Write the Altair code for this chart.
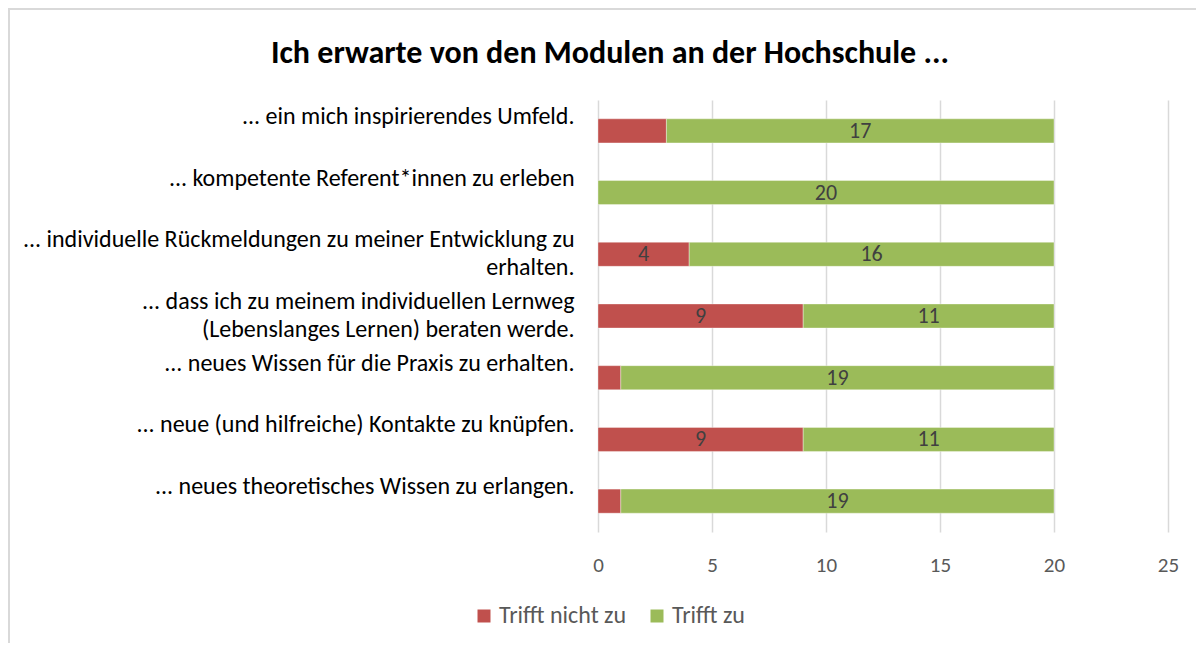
import altair as alt
import pandas as pd

categories = [
    "... ein mich inspirierendes Umfeld.",
    "... kompetente Referent*innen zu erleben",
    "... individuelle Rückmeldungen zu meiner Entwicklung zu\nerhalten.",
    "... dass ich zu meinem individuellen Lernweg\n(Lebenslanges Lernen) beraten werde.",
    "... neues Wissen für die Praxis zu erhalten.",
    "... neue (und hilfreiche) Kontakte zu knüpfen.",
    "... neues theoretisches Wissen zu erlangen.",
]
trifft_nicht_zu = [3, 0, 4, 9, 1, 9, 1]
trifft_zu = [17, 20, 16, 11, 19, 11, 19]
series_names = ["Trifft nicht zu", "Trifft zu"]
series_colors = ["#C0504D", "#9BBB59"]
x_ticks = [0, 5, 10, 15, 20, 25]

rows = []
for i, c in enumerate(categories):
    rows.append({"cat": c, "series": series_names[0], "ord": 0, "value": trifft_nicht_zu[i]})
    rows.append({"cat": c, "series": series_names[1], "ord": 1, "value": trifft_zu[i]})
df = pd.DataFrame(rows)

FONT = "Carlito, Lato"

base = alt.Chart(df).transform_stack(
    stack="value", groupby=["cat"], as_=["x0", "x1"], sort=[alt.SortField("ord")]
)

y_enc = alt.Y(
    "cat:N",
    sort=categories,
    title=None,
    scale=alt.Scale(paddingInner=0.61, paddingOuter=0.305),
    axis=alt.Axis(
        domain=False, ticks=False, grid=False,
        labelFont=FONT, labelFontSize=24, labelColor="#000000",
        labelPadding=24, labelLimit=800, labelAlign="right", labelBaseline="middle",
        labelLineHeight=28, labelOffset=-14,
        labelExpr="split(datum.label, '\\n')",
    ),
)

bars = base.mark_bar(stroke="#FFFFFF", strokeWidth=0.6, strokeOpacity=0.6).encode(
    x=alt.X(
        "x0:Q",
        title=None,
        scale=alt.Scale(domain=[0, 25], nice=False),
        axis=alt.Axis(
            values=x_ticks, domain=False, ticks=False, labelFlush=False,
            grid=True, gridColor="#D9D9D9", gridWidth=1.5,
            labelFont=FONT, labelFontSize=21, labelColor="#595959", labelPadding=22,
        ),
    ),
    x2="x1:Q",
    y=y_enc,
    color=alt.Color(
        "series:N",
        scale=alt.Scale(domain=series_names, range=series_colors),
        legend=alt.Legend(
            title=None, orient="none", direction="horizontal",
            legendX=-126, legendY=504,
            symbolType="square", symbolSize=169, symbolStrokeWidth=0,
            labelFont=FONT, labelFontSize=24, labelColor="#595959",
            columnPadding=18, labelOffset=3,
        ),
    ),
)

labels = base.transform_calculate(mid="(datum.x0 + datum.x1) / 2").transform_filter(
    "datum.value >= 4"
).mark_text(font=FONT, fontSize=22, color="#404040", baseline="middle", align="center").encode(
    x=alt.X("mid:Q"),
    y=alt.Y("cat:N", sort=categories),
    text=alt.Text("value:Q"),
)

frame = alt.Chart(pd.DataFrame({"a": [0]})).mark_rect(
    fill=None, stroke="#D9D9D9", strokeWidth=2
).encode(
    x=alt.value(-589), x2=alt.value(800), y=alt.value(-91), y2=alt.value(700)
)

chart = alt.layer(frame, bars, labels).properties(
    width=570,
    height=432,
    title=alt.Title(
        "Ich erwarte von den Modulen an der Hochschule ...",
        font=FONT, fontSize=32, fontWeight="bold", color="#000000",
        anchor="middle", dx=-273, offset=0, dy=62,
    ),
    autosize=alt.AutoSizeParams(type="none"),
    padding={"left": 590, "top": 92, "right": 28, "bottom": 111},
).configure_view(stroke=None)

chart.save("out.html", embed_options={"renderer": "svg", "actions": False})
